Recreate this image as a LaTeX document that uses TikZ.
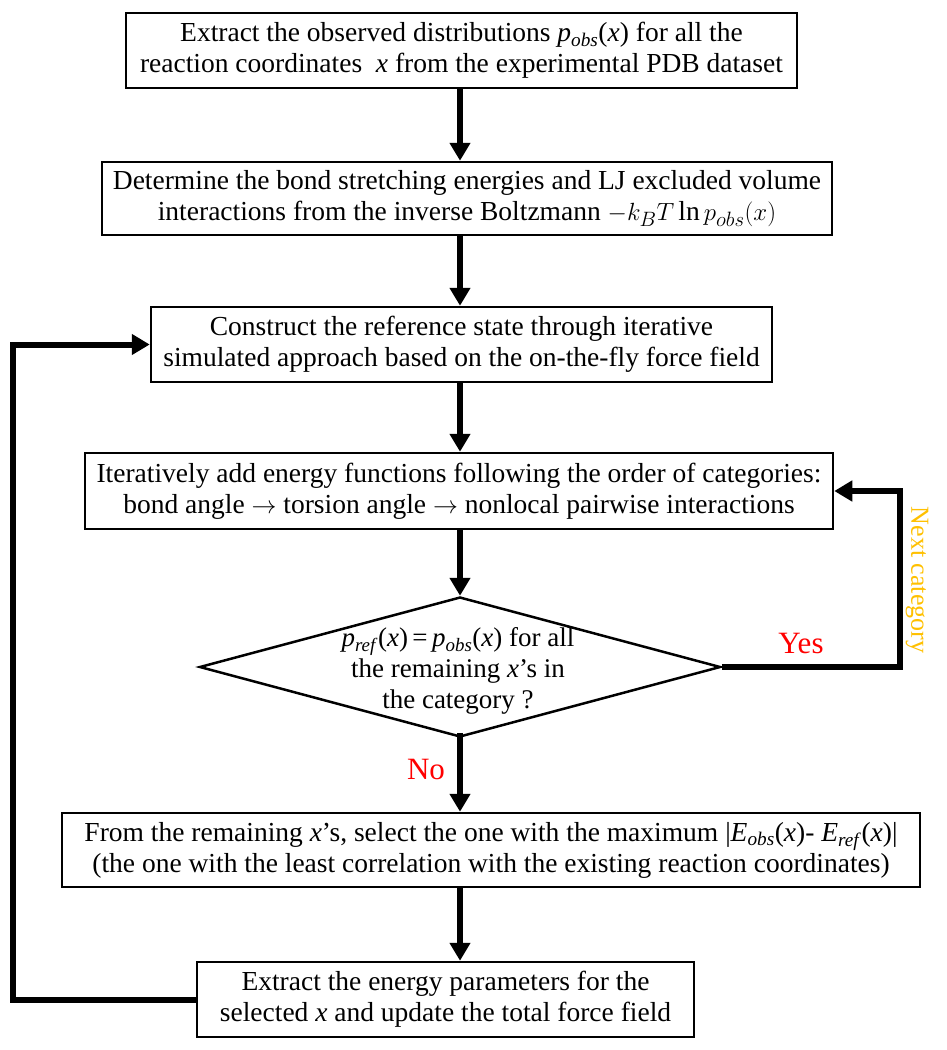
\documentclass[tikz,border=0pt]{standalone}
\usepackage{fontspec}
\setmainfont{Liberation Serif}
\usepackage{xcolor}
\usepackage{tikz}
\usetikzlibrary{arrows.meta,shapes.geometric}

\definecolor{nextcol}{RGB}{255,192,0}
\newcommand{\vsub}[2]{\textit{#1}\textsubscript{\textit{#2}}}

\begin{document}
\begin{tikzpicture}[x=1pt,y=-1pt,
    box/.style={draw, line width=2.5pt, align=center, inner sep=0pt,
        font=\fontsize{27.5}{31}\selectfont},
    decision/.style={draw, diamond, line width=2.5pt, inner sep=0pt},
    flow/.style={line width=6.5pt, -{Triangle[length=18pt,width=20pt]}},
    loopline/.style={line width=6pt, -{Triangle[length=18pt,width=20pt]}},
    lbl/.style={inner sep=0pt, font=\fontsize{31}{36}\selectfont}]
        \useasboundingbox (0,0) rectangle (946,1050);

        \node[box, minimum width=671pt, minimum height=75pt] (box1) at (461.5,50.5)
            {Extract the observed distributions \vsub{p}{obs}(\textit{x}) for all the\\
             reaction coordinates \ \textit{x} from the experimental PDB dataset};
        \node[box, minimum width=730pt, minimum height=73pt] (box2) at (467,198.5)
            {Determine the bond stretching energies and LJ excluded volume\\
             interactions from the inverse Boltzmann $-k_BT\ln p_{obs}(x)$};
        \node[box, minimum width=621pt, minimum height=75pt] (box3) at (461.5,344.5)
            {Construct the reference state through iterative\\
             simulated approach based on the on-the-fly force field};
        \node[box, minimum width=748pt, minimum height=76pt] (box4) at (459,491)
            {Iteratively add energy functions following the order of categories:\\
             bond angle $\rightarrow$ torsion angle $\rightarrow$ nonlocal pairwise interactions};
        \node[decision, minimum width=521pt, minimum height=140pt] (dec) at (460,667) {};
        \node[align=center, inner sep=0pt, font=\fontsize{27}{31}\selectfont] (dectxt) at (458,671)
            {\vsub{p}{ref}(\textit{x})\,=\,\vsub{p}{obs}(\textit{x}) for all\\
             the remaining \textit{x}’s in\\
             the category ?};
        \node[box, minimum width=858pt, minimum height=74pt] (box5) at (491,850)
            {From the remaining \textit{x}’s, select the one with the maximum
             |\vsub{E}{obs}(\textit{x})- \vsub{E}{ref}(\textit{x})|\\
             (the one with the least correlation with the existing reaction coordinates)};
        \node[box, minimum width=497pt, minimum height=75pt] (box6) at (445.5,999.5)
            {Extract the energy parameters for the\\
             selected \textit{x} and update the total force field};

        \coordinate (mid) at (460,0);
        \coordinate (lft) at (13,0);
        \coordinate (rgt) at (900,0);

        \draw[flow] (box1.south -| mid) -- (box2.north -| mid);
        \draw[flow] (box2.south -| mid) -- (box3.north -| mid);
        \draw[flow] (box3.south -| mid) -- (box4.north -| mid);
        \draw[flow] (box4.south -| mid) -- (dec.north);
        \draw[flow] ([yshift=5pt]dec.south) -- (dec.south |- box5.north);
        \draw[flow] (box5.south -| mid) -- (box6.north -| mid);

        % loops back
        \draw[loopline] (dec.east) -- (dec.east -| rgt) |- (box4.east);
        \draw[loopline] (box6.west) -- (box6.west -| lft) |- (box3.west);

        \node[lbl, text=red] (yes) at (801,643) {Yes};
        \node[lbl, text=red] (no) at (426,769) {No};
        \node[inner sep=0pt, rotate=-90, text=nextcol, font=\fontsize{26}{30}\selectfont]
            (nextlbl) at (917,580) {Next category};
    \end{tikzpicture}
\end{document}
